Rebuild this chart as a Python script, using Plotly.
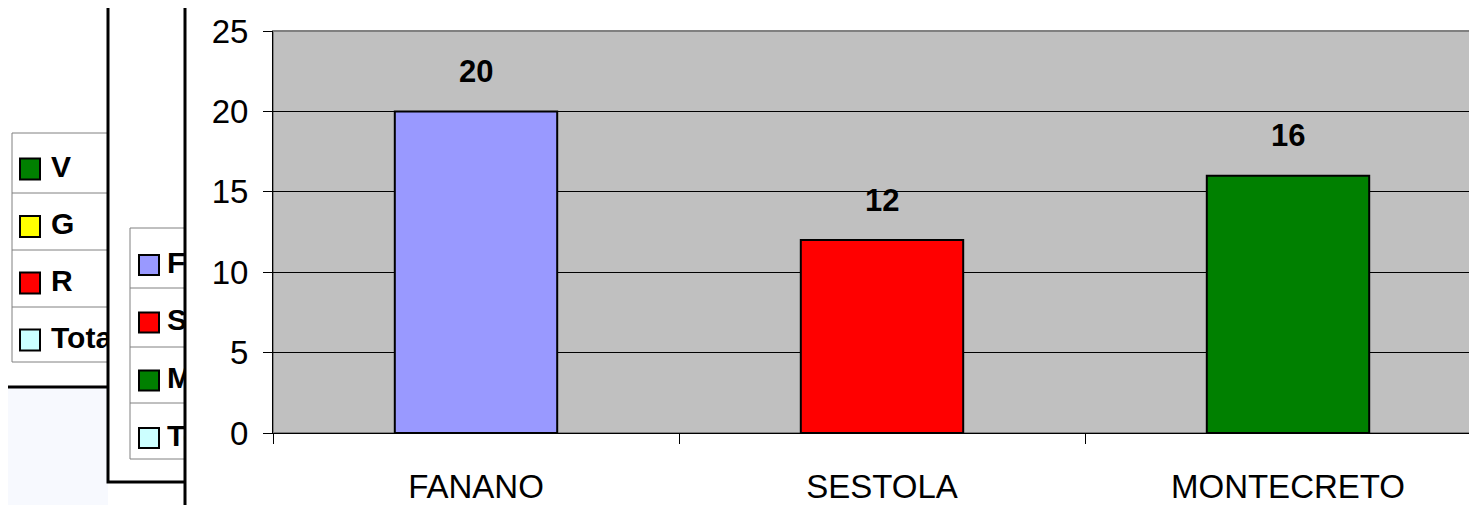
import plotly.graph_objects as go

W, H = 1477, 505
OFF = 8  # page offset of the figure inside the browser window

categories = ["FANANO", "SESTOLA", "MONTECRETO"]
values = [20, 12, 16]
bar_colors = ["#9999FF", "#FF0000", "#008000"]

legend1_labels = ["V", "G", "R", "Totale"]
legend1_colors = ["#008000", "#FFFF00", "#FF0000", "#CCFFFF"]
legend2_labels = ["FANANO", "SESTOLA", "MONTECRETO", "Totale"]
legend2_colors = ["#9999FF", "#FF0000", "#008000", "#CCFFFF"]

y_ticks = [0, 5, 10, 15, 20, 25]

FONT = "Liberation Sans, Arial, sans-serif"


def px(x):
    return (x - OFF) / W


def py(y):
    return 1 - (y - OFF) / H


def rect(x0, y0, x1, y1, fill, line_color=None, lw=1):
    return dict(type="rect", xref="paper", yref="paper", layer="below",
                x0=px(x0), x1=px(x1), y0=py(y1), y1=py(y0),
                fillcolor=fill,
                line=dict(color=line_color or fill, width=lw if line_color else 0))


def hline(x0, x1, y, color, lw):
    return dict(type="line", xref="paper", yref="paper", layer="below",
                x0=px(x0), x1=px(x1), y0=py(y), y1=py(y),
                line=dict(color=color, width=lw))


shapes = []
# ---- chart 1 (furthest back)
shapes.append(rect(-20, 387, 108, 540, "#F7F9FE"))
shapes.append(hline(-20, 108, 387, "black", 3))
# legend 1
L1 = dict(x0=12, y0=133, y1=362, seps=[193, 250, 307], mx=(20, 40),
          centers=[169, 226.5, 283, 340])
shapes.append(rect(L1["x0"], L1["y0"], 140, L1["y1"], "white", "#808080", 1))
for s in L1["seps"]:
    shapes.append(hline(L1["x0"], 140, s, "#808080", 1))
for c, col in zip(L1["centers"], legend1_colors):
    shapes.append(rect(L1["mx"][0], c - 10.5, L1["mx"][1], c + 10.5, col, "black", 2))

# ---- chart 2
shapes.append(rect(108, -20, 230, 482, "white", "black", 3))
L2 = dict(x0=130, y0=228, y1=459, seps=[288, 347, 403], mx=(139, 159),
          centers=[265, 322.5, 380.5, 438])
shapes.append(rect(L2["x0"], L2["y0"], 230, L2["y1"], "white", "#808080", 1))
for s in L2["seps"]:
    shapes.append(hline(L2["x0"], 230, s, "#808080", 1))
for c, col in zip(L2["centers"], legend2_colors):
    shapes.append(rect(L2["mx"][0], c - 10, L2["mx"][1], c + 10, col, "black", 2))

# ---- chart 3 (front)
shapes.append(rect(185, -20, 1600, 600, "white", "black", 3))
# plot area background
shapes.append(rect(273, 31, 1600, 433, "#C0C0C0", "#808080", 2))

fig = go.Figure()

fig.add_trace(go.Bar(
    x=categories, y=values, marker=dict(color=bar_colors, line=dict(color="black", width=2)),
    width=0.4, showlegend=False, hoverinfo="skip", xaxis="x", yaxis="y"))

legend_font = dict(family=FONT, size=30, color="black", weight="bold")
# legend texts (clipped by their axes' domains)
fig.add_trace(go.Scatter(
    x=[51] * len(legend1_labels), y=L1["centers"], text=legend1_labels, mode="text",
    textposition="middle right", cliponaxis=True, showlegend=False, hoverinfo="skip",
    textfont=legend_font, xaxis="x2", yaxis="y2"))
fig.add_trace(go.Scatter(
    x=[167] * len(legend2_labels), y=L2["centers"], text=legend2_labels, mode="text",
    textposition="middle right", cliponaxis=True, showlegend=False, hoverinfo="skip",
    textfont=legend_font, xaxis="x3", yaxis="y3"))

for cat, v in zip(categories, values):
    fig.add_annotation(x=cat, y=v, text=str(v), showarrow=False, yshift=40,
                       xref="x", yref="y",
                       font=dict(family=FONT, size=31, color="black", weight="bold"))

right_range = -0.5 + (W + OFF - 273) / 406.0

fig.update_layout(
    width=W, height=H,
    margin=dict(l=0, r=0, t=0, b=0, autoexpand=False),
    paper_bgcolor="white", plot_bgcolor="rgba(0,0,0,0)",
    shapes=shapes,
    xaxis=dict(domain=[px(273), 1], range=[-0.5, right_range], type="category",
               showline=True, linecolor="black", linewidth=1, automargin=False,
               ticks="outside", ticklen=10, tickcolor="black", tickson="boundaries",
               showgrid=False, ticklabelstandoff=24,
               tickfont=dict(family=FONT, size=33, color="black")),
    yaxis=dict(domain=[py(433), py(31)], range=[0, 25], tickvals=y_ticks,
               showline=True, linecolor="black", linewidth=1, automargin=False,
               ticks="outside", ticklen=9, tickcolor="black",
               showgrid=True, gridcolor="black", gridwidth=1, zeroline=False,
               ticklabelstandoff=8,
               tickfont=dict(family=FONT, size=33, color="black")),
    xaxis2=dict(domain=[px(12), px(107)], range=[12, 107], visible=False, fixedrange=True,
                automargin=False),
    yaxis2=dict(domain=[py(362), py(133)], range=[362, 133], visible=False, fixedrange=True,
                automargin=False),
    xaxis3=dict(domain=[px(130), px(184)], range=[130, 184], visible=False, fixedrange=True,
                automargin=False),
    yaxis3=dict(domain=[py(459), py(228)], range=[459, 228], visible=False, fixedrange=True,
                automargin=False),
)

fig.write_html("out.html")
